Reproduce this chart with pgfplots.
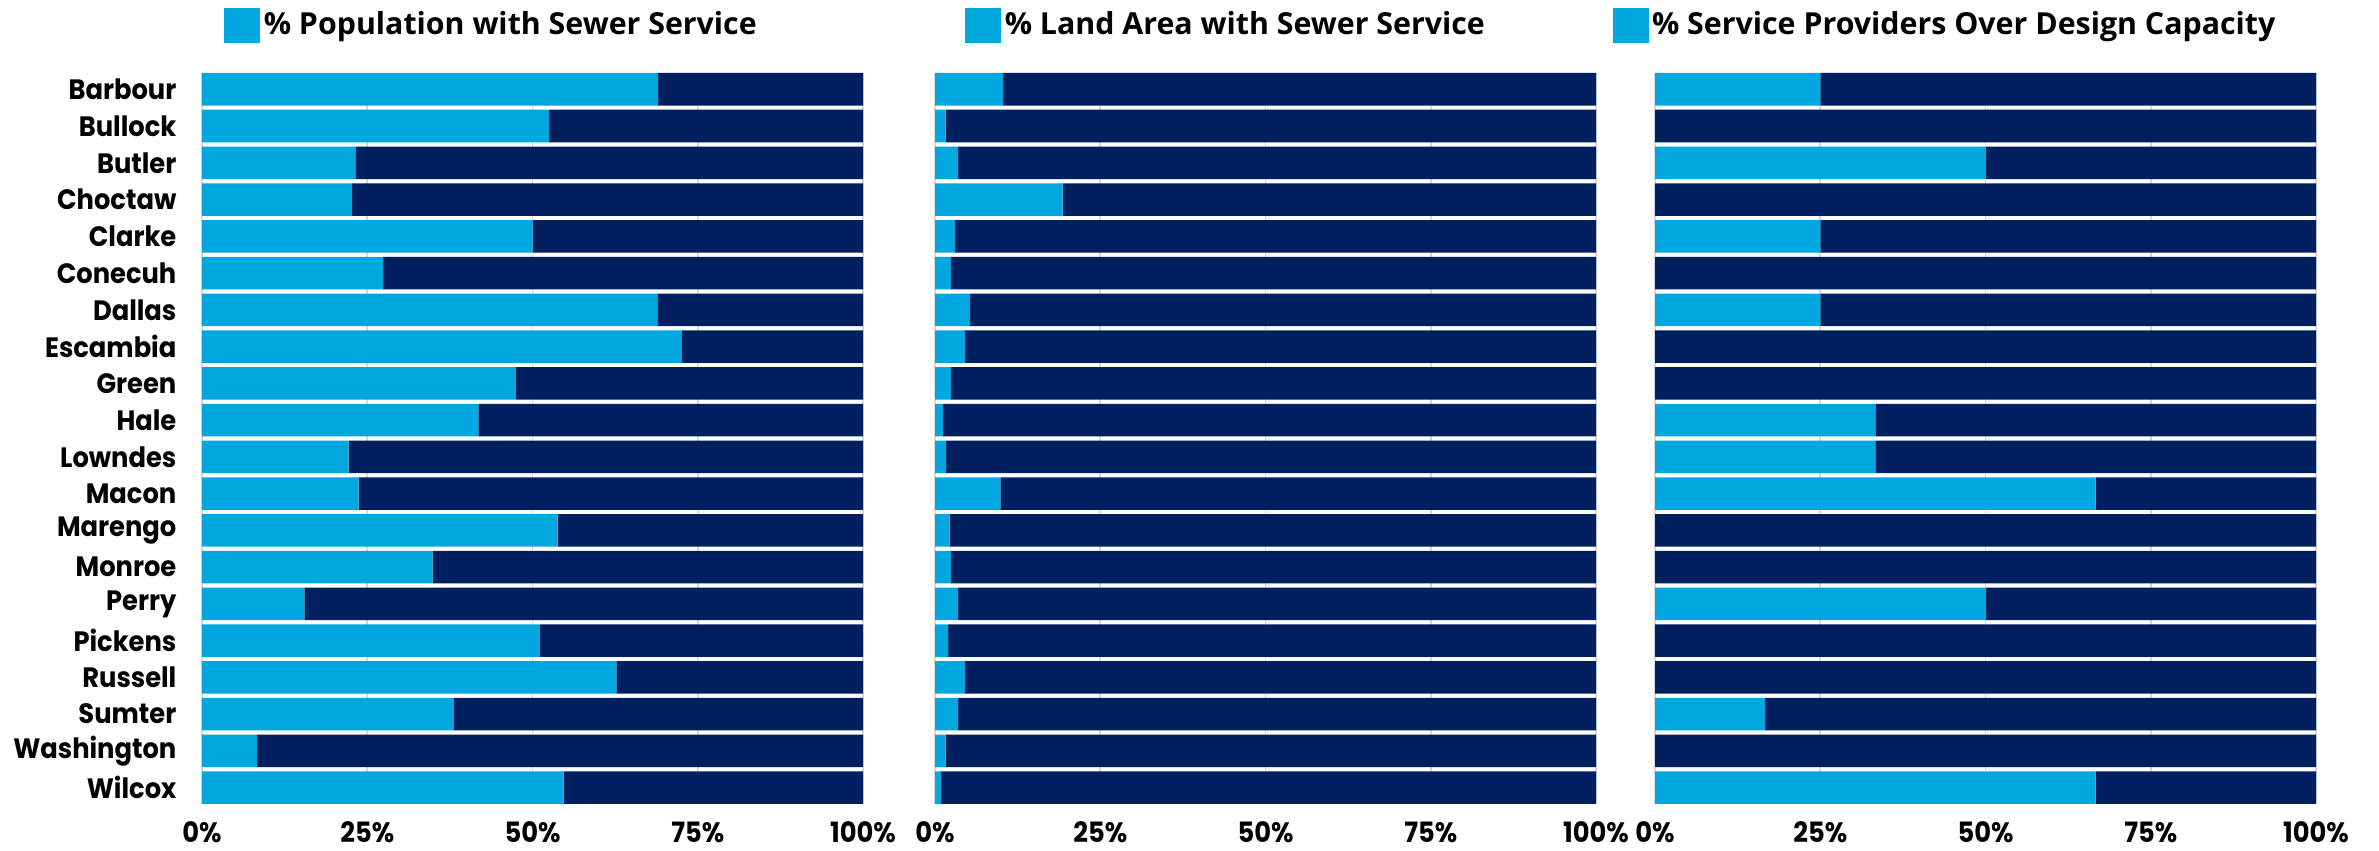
\documentclass[border=0pt]{standalone}
\usepackage{fontspec}
\usepackage{pgfplots}
\usepackage{pgfplotstable}
\pgfplotsset{compat=1.18}
\setmainfont{Open Sans}
\newfontfamily\catfont{Poppins}[FakeStretch=0.92]
\newfontfamily\legfont{Open Sans}
\definecolor{lb}{HTML}{00A8DF}
\definecolor{nv}{HTML}{001F5F}

\pgfplotstableread{
idx a b
0 69.0 31.0
1 52.5 47.5
2 23.2 76.8
3 22.7 77.3
4 50.0 50.0
5 27.4 72.6
6 68.9 31.1
7 72.6 27.4
8 47.5 52.5
9 41.8 58.2
10 22.2 77.8
11 23.7 76.3
12 53.8 46.2
13 34.9 65.1
14 15.5 84.5
15 51.1 48.9
16 62.7 37.3
17 38.1 61.9
18 8.3 91.7
19 54.7 45.3
}\popdata

\pgfplotstableread{
idx a b
0 10.3 89.7
1 1.6 98.4
2 3.5 96.5
3 19.3 80.7
4 3.0 97.0
5 2.4 97.6
6 5.3 94.7
7 4.5 95.5
8 2.4 97.6
9 1.2 98.8
10 1.7 98.3
11 9.9 90.1
12 2.2 97.8
13 2.4 97.6
14 3.5 96.5
15 2.0 98.0
16 4.5 95.5
17 3.5 96.5
18 1.6 98.4
19 0.9 99.1
}\landdata

\pgfplotstableread{
idx a b
0 25 75
1 0 100
2 50 50
3 0 100
4 25 75
5 0 100
6 25 75
7 0 100
8 0 100
9 33.33 66.67
10 33.33 66.67
11 66.67 33.33
12 0 100
13 0 100
14 50 50
15 0 100
16 0 100
17 16.67 83.33
18 0 100
19 66.67 33.33
}\provdata

\pgfplotsset{
  panel/.style={
    xbar stacked, scale only axis, width=198.3bp, height=219.3bp,
    anchor=south west,
    xmin=0, xmax=100, ymin=-0.445, ymax=19.445,
    bar width=0.89,
    xtick={0,25,50,75,100}, xticklabels={0\%,25\%,50\%,75\%,100\%},
    ytick={0,...,19},
    axis line style={draw=none},
    major tick length=0pt,
    xmajorgrids, major grid style={draw=gray!30, line width=0.5bp},
    xticklabel style={font=\catfont\bfseries\fontsize{8.4bp}{10bp}\selectfont, anchor=north, inner sep=0pt, yshift=-5.2bp},
    yticklabels={},
    legend style={draw=none, fill=none, inner sep=0pt, anchor=west,
      font=\legfont\bfseries\fontsize{9.1bp}{11bp}\selectfont,
      nodes={inner sep=1bp}},
    legend image code/.code={\fill[lb] (0bp,-5.2bp) rectangle (10.8bp,5.2bp);},
  }
}

\begin{document}
\begin{tikzpicture}
\useasboundingbox (0,0) rectangle (713.7bp,255.3bp);
\begin{axis}[panel, at={(60.6bp,14.1bp)},
  yticklabels={Wilcox,Washington,Sumter,Russell,Pickens,Perry,Monroe,Marengo,Macon,Lowndes,Hale,Green,Escambia,Dallas,Conecuh,Clarke,Choctaw,Butler,Bullock,Barbour},
  yticklabel style={font=\catfont\bfseries\fontsize{8.4bp}{10bp}\selectfont, anchor=east, inner sep=0pt, xshift=-7.5bp},
  legend style={at={(0.033,1.065)}}]
\addplot[fill=lb, draw=none] table[x=a, y expr=19-\thisrow{idx}] {\popdata};
\addlegendentry{\% Population with Sewer Service}
\addplot[fill=nv, draw=none, forget plot] table[x=b, y expr=19-\thisrow{idx}] {\popdata};
\end{axis}
\begin{axis}[panel, at={(280.5bp,14.1bp)}, legend style={at={(0.045,1.065)}}]
\addplot[fill=lb, draw=none] table[x=a, y expr=19-\thisrow{idx}] {\landdata};
\addlegendentry{\% Land Area with Sewer Service}
\addplot[fill=nv, draw=none, forget plot] table[x=b, y expr=19-\thisrow{idx}] {\landdata};
\end{axis}
\begin{axis}[panel, at={(496.5bp,14.1bp)}, legend style={at={(-0.065,1.065)}}]
\addplot[fill=lb, draw=none] table[x=a, y expr=19-\thisrow{idx}] {\provdata};
\addlegendentry{\% Service Providers Over Design Capacity}
\addplot[fill=nv, draw=none, forget plot] table[x=b, y expr=19-\thisrow{idx}] {\provdata};
\end{axis}
\end{tikzpicture}
\end{document}
